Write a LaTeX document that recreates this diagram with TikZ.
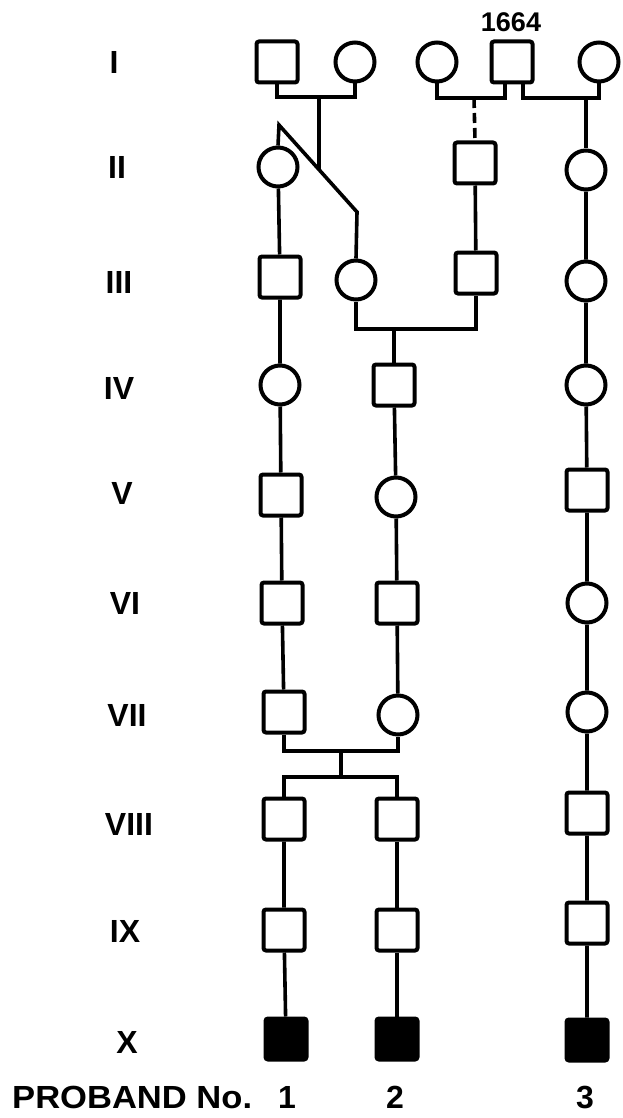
\documentclass[tikz,border=0pt]{standalone}
\usepackage{fontspec}
\setmainfont{Liberation Sans}
\newfontfamily\widefont[FakeStretch=1.08]{Liberation Sans}
\begin{document}
\begin{tikzpicture}[x=1pt,y=-1pt,
  male/.style={draw, line width=4pt, rectangle, rounded corners=2.5pt,
               minimum size=41pt, inner sep=0pt},
  female/.style={draw, line width=4pt, circle, minimum size=39pt, inner sep=0pt},
  affected/.style={male, fill=black},
  link/.style={line width=3.6pt},
  gen/.style={font=\bfseries\fontsize{32}{32}\selectfont, inner sep=0pt},
]
\useasboundingbox (0,0) rectangle (622,1118);

% generation labels
\node[gen] (gI)    at (114,62)   {I};
\node[gen] (gII)   at (117,167)  {II};
\node[gen] (gIII)  at (119,282)  {III};
\node[gen] (gIV)   at (119,388)  {IV};
\node[gen] (gV)    at (122,493)  {V};
\node[gen] (gVI)   at (125,603)  {VI};
\node[gen] (gVII)  at (127,715)  {VII};
\node[gen] (gVIII) at (129,824)  {VIII};
\node[gen] (gIX)   at (125,931)  {IX};
\node[gen] (gX)    at (127,1042) {X};

% generation I
\node[male]   (i1) at (277,62) {};
\node[female] (i2) at (355,62) {};
\node[female] (i3) at (437,62) {};
\node[male]   (i4) at (512,62) {};
\node[female] (i5) at (599,62) {};
\node[font=\bfseries\fontsize{27}{27}\selectfont, inner sep=0pt, anchor=base]
  (year) at (511,32) {1664};

% generation II
\node[female] (ii1) at (278,167) {};
\node[male]   (ii2) at (475,163) {};
\node[female] (ii3) at (586,170) {};

% generation III
\node[male]   (iii1) at (280,277) {};
\node[female] (iii2) at (356,280) {};
\node[male]   (iii3) at (476,273) {};
\node[female] (iii4) at (586,281) {};

% generation IV
\node[female] (iv1) at (280,385) {};
\node[male]   (iv2) at (394,385) {};
\node[female] (iv3) at (586,385) {};

% generation V
\node[male]   (v1) at (281,495) {};
\node[female] (v2) at (396,497) {};
\node[male]   (v3) at (587,490) {};

% generation VI
\node[male]   (vi1) at (282,603) {};
\node[male]   (vi2) at (397,603) {};
\node[female] (vi3) at (587,603) {};

% generation VII
\node[male]   (vii1) at (284,712) {};
\node[female] (vii2) at (398,715) {};
\node[female] (vii3) at (587,712) {};

% generation VIII
\node[male] (viii1) at (284,819) {};
\node[male] (viii2) at (397,819) {};
\node[male] (viii3) at (587,813) {};

% generation IX
\node[male] (ix1) at (284,930) {};
\node[male] (ix2) at (397,930) {};
\node[male] (ix3) at (587,923) {};

% generation X: probands
\node[affected] (x1) at (286,1039) {};
\node[affected] (x2) at (397,1039) {};
\node[affected] (x3) at (587,1040) {};

% proband numbering
\node[inner sep=0pt, anchor=base west,
      font=\widefont\bfseries\fontsize{32}{32}\selectfont] (pb) at (12,1108)
  {PROBAND No.};
\node[gen, anchor=base] (p1) at (287,1108) {1};
\node[gen, anchor=base] (p2) at (395,1108) {2};
\node[gen, anchor=base] (p3) at (585,1108) {3};

% junction points
\coordinate (m1) at (319,97);
\coordinate (apex) at (279,125);
\coordinate (knee) at (357,212);
\coordinate (d1) at (319,170);
\coordinate (m2) at (474,98);
\coordinate (m3) at (586,98);
\coordinate (m4) at (394,329);
\coordinate (m5) at (341,751);
\coordinate (s5) at (341,777);

% marriages and descent in generation I
\draw[link] (i1.south) |- (m1) -| (i2.south);
\draw[link] (m1) -- (d1);
\draw[link, line join=miter] (ii1.north) -- (apex) -- (knee) -- (iii2.north);
\draw[link] (i3.south) |- (m2) -| ([xshift=-7pt]i4.south);
\draw[link, dash pattern=on 10pt off 5pt] (m2) -- (ii2.north);
\draw[link] ([xshift=11pt]i4.south) |- (m3) -| (i5.south);
\draw[link] (m3) -- (ii3.north);

% marriage in generation III
\draw[link] (iii2.south) |- (m4) -| (iii3.south);
\draw[link] (m4) -- (iv2.north);
\draw[link] (ii2) -- (iii3);

% marriage in generation VII and its two sons
\draw[link] (vii1.south) |- (m5) -| (vii2.south);
\draw[link] (m5) -- (s5);
\draw[link] (viii1.north) |- (s5) -| (viii2.north);

% lines of descent
\draw[link] (ii1) -- (iii1) -- (iv1) -- (v1) -- (vi1) -- (vii1);
\draw[link] (iv2) -- (v2) -- (vi2) -- (vii2);
\draw[link] (viii1) -- (ix1) -- (x1);
\draw[link] (viii2) -- (ix2) -- (x2);
\draw[link] (ii3) -- (iii4) -- (iv3) -- (v3) -- (vi3) -- (vii3) -- (viii3) -- (ix3) -- (x3);
\end{tikzpicture}
\end{document}
